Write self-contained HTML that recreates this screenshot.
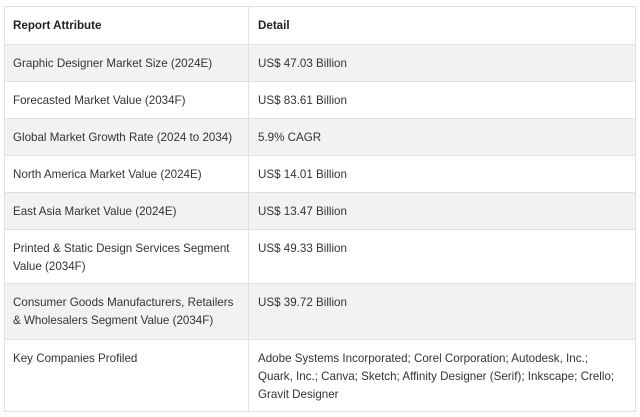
<!DOCTYPE html><html><head><style>
body{margin:0;width:640px;height:417px;background:#fff;font-family:"Liberation Sans",sans-serif;font-size:11.6px;color:#333;position:relative;overflow:hidden}
.r{position:absolute;left:4px;width:632px;border:1px solid #dfdfe4;border-bottom:none;box-sizing:border-box}
.c{position:absolute;top:0;bottom:0;padding-top:10px;line-height:18px}
.a{left:8px;width:232px}.b{left:253px;width:375px;}
.d{position:absolute;left:243px;top:0;bottom:0;border-left:1px solid #dfdfe4}
.g{background:#f2f2f2}
</style></head><body>
<div class="r" style="top:6px;height:38px"><div class="c a" style="font-weight:bold;color:#222">Report Attribute</div><div class="d"></div><div class="c b" style="font-weight:bold;color:#222">Detail</div></div>
<div class="r g" style="top:44px;height:37px"><div class="c a">Graphic Designer Market Size (2024E)</div><div class="d"></div><div class="c b">US$ 47.03 Billion</div></div>
<div class="r" style="top:81px;height:37px"><div class="c a">Forecasted Market Value (2034F)</div><div class="d"></div><div class="c b">US$ 83.61 Billion</div></div>
<div class="r g" style="top:118px;height:37px"><div class="c a">Global Market Growth Rate (2024 to 2034)</div><div class="d"></div><div class="c b">5.9% CAGR</div></div>
<div class="r" style="top:155px;height:37px"><div class="c a">North America Market Value (2024E)</div><div class="d"></div><div class="c b">US$ 14.01 Billion</div></div>
<div class="r g" style="top:192px;height:37px"><div class="c a">East Asia Market Value (2024E)</div><div class="d"></div><div class="c b">US$ 13.47 Billion</div></div>
<div class="r" style="top:229px;height:54px"><div class="c a">Printed &amp; Static Design Services Segment<br>Value (2034F)</div><div class="d"></div><div class="c b">US$ 49.33 Billion</div></div>
<div class="r g" style="top:283px;height:56px"><div class="c a">Consumer Goods Manufacturers, Retailers<br>&amp; Wholesalers Segment Value (2034F)</div><div class="d"></div><div class="c b">US$ 39.72 Billion</div></div>
<div class="r" style="top:339px;height:73px;border-bottom:1px solid #dfdfe4"><div class="c a">Key Companies Profiled</div><div class="d"></div><div class="c b">Adobe Systems Incorporated; Corel Corporation; Autodesk, Inc.;<br>Quark, Inc.; Canva; Sketch; Affinity Designer (Serif); Inkscape; Crello;<br>Gravit Designer</div></div>
</body></html>
